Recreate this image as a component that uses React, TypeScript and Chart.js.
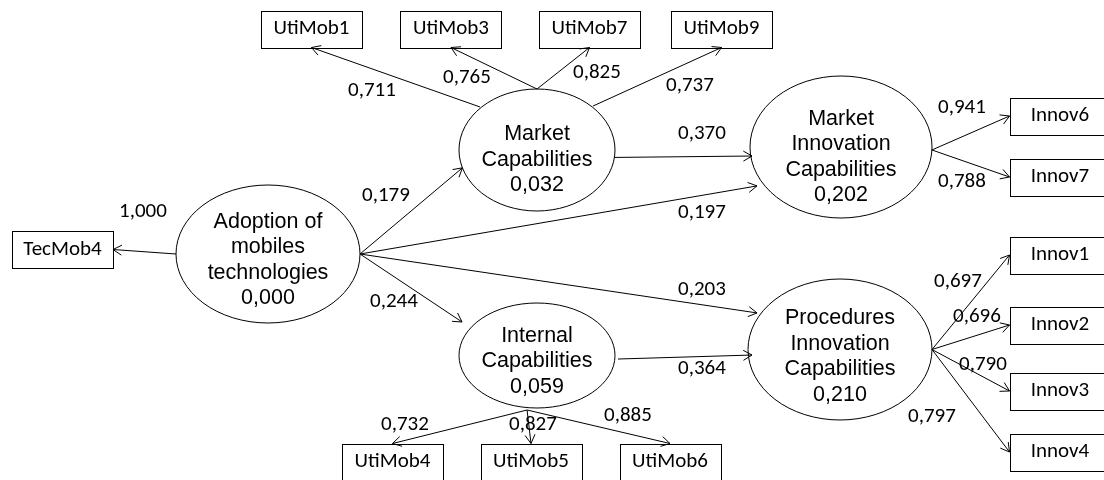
import React, { useEffect, useRef } from "react";
import { Chart, registerables } from "chart.js";

Chart.register(...registerables);

const W = 1104;
const H = 480;

// ---- latent constructs ----
const latentLines: string[][] = [
  ["Adoption of", "mobiles", "technologies"],
  ["Market", "Capabilities"],
  ["Internal", "Capabilities"],
  ["Market", "Innovation", "Capabilities"],
  ["Procedures", "Innovation", "Capabilities"],
];
const latentR2 = ["0,000", "0,032", "0,059", "0,202", "0,210"];
// layout of latent ellipses (diagram units)
const latentX = [268, 537, 537, 841, 840];
const latentY = [254, 150, 355.5, 147, 349.5];
const latentRx = [92, 78, 78, 91, 92];
const latentRy = [69, 61, 52.5, 71, 70.5];
const latentTextY = [260, 160, 361.5, 157, 356.5];

// ---- indicators ----
const indicatorNames = [
  "TecMob4", "UtiMob1", "UtiMob3", "UtiMob7", "UtiMob9",
  "UtiMob4", "UtiMob5", "UtiMob6",
  "Innov6", "Innov7", "Innov1", "Innov2", "Innov3", "Innov4",
];
const indicatorX = [62.5, 311.5, 451, 589.5, 721.5, 392.5, 531, 670, 1060, 1060, 1060, 1060, 1060, 1060];
const indicatorY = [249.5, 29, 29, 29, 29, 462, 462, 462, 116, 177, 255, 325, 391, 452];
const indicatorSide = [
  "right", "bottom", "bottom", "bottom", "bottom",
  "top", "top", "top",
  "left", "left", "left", "left", "left", "left",
];
const boxW = 101;
const boxH = 37;

// ---- structural paths (latent -> latent) ----
const pathFrom = [0, 0, 0, 0, 1, 2];
const pathTo = [1, 2, 3, 4, 3, 4];
const pathCoef = ["0,179", "0,244", "0,197", "0,203", "0,370", "0,364"];
const pathStartAngle = [0, 0, 0, 0, -7, -3.7];
const pathStartK = [1, 1, 1, 1, 1, 1.04];
const pathEndAngle = [197, 146.4, 210.7, 150.1, 187.4, 184.7];
const pathEndK = [1, 1.154, 1.074, 1.04, 0.986, 0.96];
const pathLabelX = [386, 394, 702, 702, 702, 702];
const pathLabelY = [196, 302, 213, 290, 134, 369];

// ---- loadings (latent -> indicator) ----
const loadFrom = [0, 1, 1, 1, 1, 2, 2, 2, 3, 3, 4, 4, 4, 4];
const loadTo = [0, 1, 2, 3, 4, 5, 6, 7, 8, 9, 10, 11, 12, 13];
const loadCoef = [
  "1,000", "0,711", "0,765", "0,825", "0,737",
  "0,732", "0,827", "0,885",
  "0,941", "0,788", "0,697", "0,696", "0,790", "0,797",
];
const loadAngle = [180, 136, 90, 90, 45.1, 263, 263, 263, -2.4, -2.4, 0, 0, 0, 0];
const loadK = [1, 1.015, 1, 1, 1.018, 1.046, 1.046, 1.046, 1, 1, 1, 1, 1, 1];
const loadLabelX = [143, 372, 467, 597, 690, 405, 533, 628, 962, 962, 958, 977, 983, 932];
const loadLabelY = [212, 91, 78, 73, 86, 425, 425, 416, 108, 182, 282, 317, 365, 417];

const ELLIPSE_FONT = "21.5px 'Liberation Sans', Arial, sans-serif";
const LABEL_FONT = "21px Carlito, Lato, sans-serif";

function ellipsePoint(i: number, angleDeg: number, k: number) {
  const a = (angleDeg * Math.PI) / 180;
  return {
    x: latentX[i] + latentRx[i] * k * Math.cos(a),
    y: latentY[i] - latentRy[i] * k * Math.sin(a),
  };
}

function boxAnchor(j: number) {
  const s = indicatorSide[j];
  const x = indicatorX[j];
  const y = indicatorY[j];
  if (s === "right") return { x: x + boxW / 2, y };
  if (s === "left") return { x: x - boxW / 2, y };
  if (s === "bottom") return { x, y: y + boxH / 2 };
  return { x, y: y - boxH / 2 };
}

function buildDatasets() {
  const ds: any[] = [];
  const base = {
    showLine: true,
    borderColor: "#000",
    borderWidth: 1,
    pointRadius: 0,
    pointHoverRadius: 0,
    fill: false,
  };
  pathFrom.forEach((f, i) => {
    ds.push({
      ...base,
      label: pathCoef[i],
      data: [ellipsePoint(f, pathStartAngle[i], pathStartK[i]), ellipsePoint(pathTo[i], pathEndAngle[i], pathEndK[i])],
    });
  });
  loadFrom.forEach((f, i) => {
    ds.push({
      ...base,
      label: loadCoef[i],
      data: [ellipsePoint(f, loadAngle[i], loadK[i]), boxAnchor(loadTo[i])],
    });
  });
  return ds;
}

const diagramPlugin = {
  id: "pathDiagram",
  beforeDatasetsDraw(chart: any) {
    const { ctx, scales } = chart;
    const xs = scales.x;
    const ys = scales.y;
    const sx = Math.abs(xs.getPixelForValue(1) - xs.getPixelForValue(0));
    const sy = Math.abs(ys.getPixelForValue(1) - ys.getPixelForValue(0));
    ctx.save();
    ctx.lineWidth = 1;
    ctx.strokeStyle = "#000";
    latentX.forEach((cx, i) => {
      ctx.beginPath();
      ctx.ellipse(xs.getPixelForValue(cx), ys.getPixelForValue(latentY[i]), latentRx[i] * sx, latentRy[i] * sy, 0, 0, Math.PI * 2);
      ctx.fillStyle = "#fff";
      ctx.fill();
      ctx.stroke();
    });
    indicatorX.forEach((cx, j) => {
      const x0 = Math.round(xs.getPixelForValue(cx - boxW / 2)) + 0.5;
      const y0 = Math.round(ys.getPixelForValue(indicatorY[j] - boxH / 2)) + 0.5;
      const w = Math.round(boxW * sx);
      const h = Math.round(boxH * sy);
      ctx.fillStyle = "#fff";
      ctx.fillRect(x0, y0, w, h);
      ctx.strokeRect(x0, y0, w, h);
    });
    ctx.restore();
  },
  afterDatasetsDraw(chart: any) {
    const { ctx, scales } = chart;
    const xs = scales.x;
    const ys = scales.y;
    ctx.save();
    ctx.strokeStyle = "#000";
    ctx.lineWidth = 1;
    chart.data.datasets.forEach((_d: any, i: number) => {
      const pts = chart.getDatasetMeta(i).data;
      if (!pts || pts.length < 2) return;
      const p0 = pts[0];
      const p1 = pts[1];
      const ang = Math.atan2(p1.y - p0.y, p1.x - p0.x);
      const len = 10;
      const spread = (30 * Math.PI) / 180;
      ctx.beginPath();
      ctx.moveTo(p1.x - len * Math.cos(ang - spread), p1.y - len * Math.sin(ang - spread));
      ctx.lineTo(p1.x, p1.y);
      ctx.lineTo(p1.x - len * Math.cos(ang + spread), p1.y - len * Math.sin(ang + spread));
      ctx.stroke();
    });
    ctx.fillStyle = "#000";
    ctx.textAlign = "center";
    ctx.textBaseline = "middle";
    ctx.font = ELLIPSE_FONT;
    const lh = 25.5;
    latentX.forEach((cx, i) => {
      const lines = [...latentLines[i], latentR2[i]];
      const top = latentTextY[i] - ((lines.length - 1) * lh) / 2;
      lines.forEach((t, k) => {
        ctx.fillText(t, xs.getPixelForValue(cx), ys.getPixelForValue(top + k * lh));
      });
    });
    ctx.font = LABEL_FONT;
    indicatorNames.forEach((n, j) => {
      ctx.fillText(n, xs.getPixelForValue(indicatorX[j]), ys.getPixelForValue(indicatorY[j]));
    });
    pathCoef.forEach((c, i) => {
      ctx.fillText(c, xs.getPixelForValue(pathLabelX[i]), ys.getPixelForValue(pathLabelY[i]));
    });
    loadCoef.forEach((c, i) => {
      ctx.fillText(c, xs.getPixelForValue(loadLabelX[i]), ys.getPixelForValue(loadLabelY[i]));
    });
    ctx.restore();
  },
};

export default function App() {
  const ref = useRef<HTMLCanvasElement | null>(null);
  useEffect(() => {
    if (!ref.current) return;
    const chart = new Chart(ref.current, {
      type: "scatter",
      data: { datasets: buildDatasets() },
      options: {
        animation: false,
        responsive: false,
        maintainAspectRatio: false,
        events: [],
        layout: { padding: 0 },
        plugins: { legend: { display: false }, tooltip: { enabled: false } },
        scales: {
          x: { type: "linear", min: 0, max: W, display: false },
          y: { type: "linear", min: 0, max: H, reverse: true, display: false },
        },
      },
      plugins: [diagramPlugin],
    } as any);
    return () => chart.destroy();
  }, []);
  return (
    <div style={{ position: "absolute", left: 0, top: 0, width: W, height: H, background: "#fff" }}>
      <canvas ref={ref} width={W} height={H} style={{ display: "block" }} />
    </div>
  );
}
